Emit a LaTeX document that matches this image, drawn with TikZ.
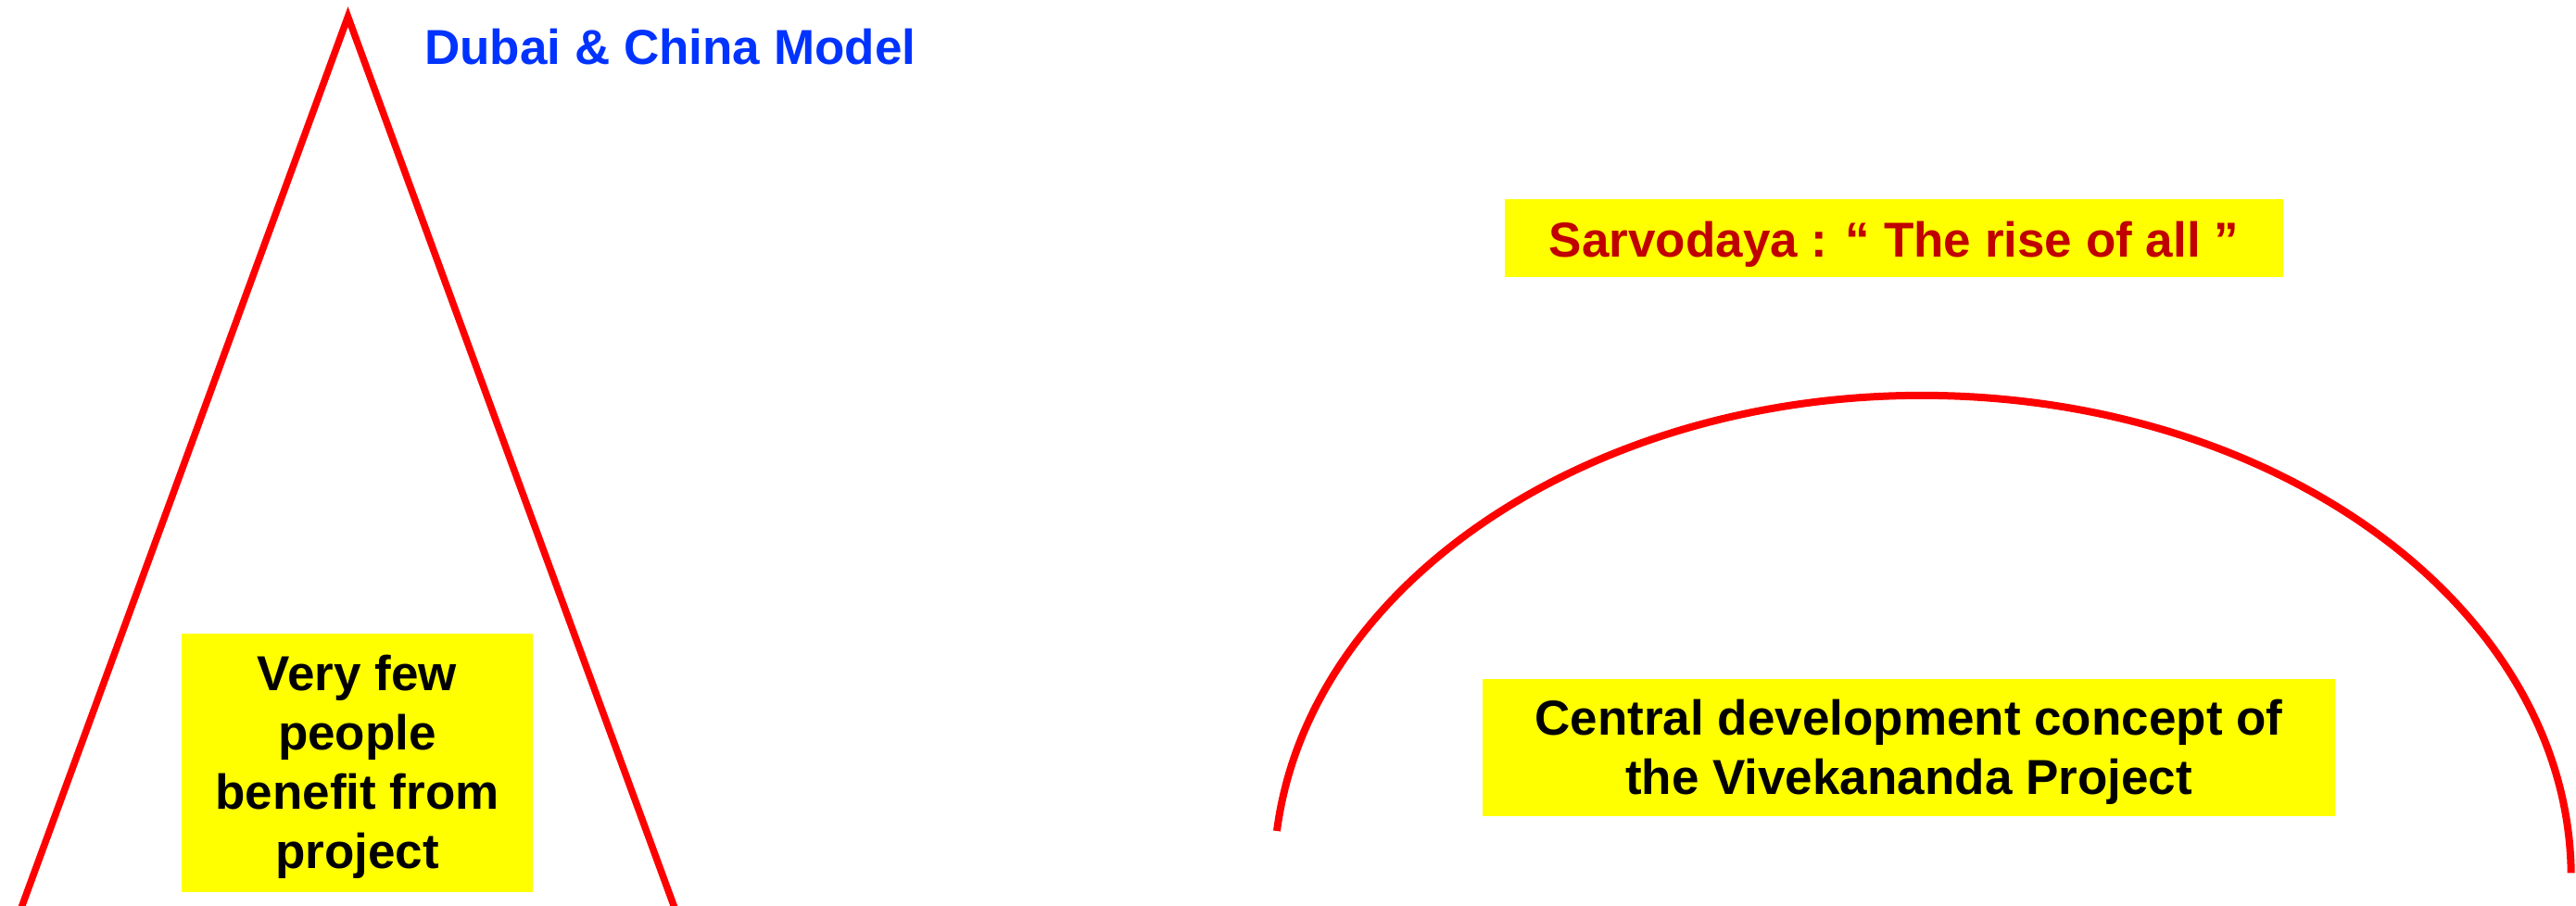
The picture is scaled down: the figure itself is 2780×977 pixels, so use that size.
\documentclass[tikz,border=0pt]{standalone}
\usepackage{fontspec}
\setmainfont{Liberation Sans}
\definecolor{linered}{RGB}{255,0,0}
\definecolor{boxyellow}{RGB}{255,255,0}
\definecolor{dubaiblue}{RGB}{0,51,255}
\definecolor{sarvored}{RGB}{192,0,0}
\tikzset{
  redline/.style={draw=linered, line width=7.5pt},
  ybox/.style={fill=boxyellow, draw=none, inner sep=0pt},
  bigtext/.style={font=\fontsize{53}{64}\selectfont\bfseries, inner sep=0pt}
}
\begin{document}
\begin{tikzpicture}[x=1pt,y=-1pt]
\useasboundingbox (0,0) rectangle (2780,977);
\fill[white] (0,0) rectangle (2780,977);

% left triangle (Dubai & China model)
\coordinate (apex) at (375.5,18);
\coordinate (tl) at (23,980);
\coordinate (tr) at (728,980);
\draw[redline, line join=miter] (tl) -- (apex) -- (tr);

\node[bigtext, anchor=base west, text=dubaiblue] (dubai) at (458,69) {Dubai \& China Model};

\node[ybox, minimum width=379pt, minimum height=279pt] (fewbox) at (385.5,823.5) {};
\node[bigtext, anchor=north, align=center] (fewtext) at (385.5,707.3)
  {Very few\\people\\benefit from\\project};

% right arc (Sarvodaya)
\coordinate (arcstart) at (1378,897);
\draw[redline, line width=8pt] (arcstart) arc[start angle=174.5, end angle=0.5, x radius=700pt, y radius=520pt];

\node[ybox, bigtext, text=sarvored, minimum width=840pt, text height=62pt, text depth=22pt, anchor=base] (sarvo) at (2044,277)
  {Sarvodaya : “ The rise of all ”};

\node[ybox, minimum width=920pt, minimum height=148pt] (centralbox) at (2060,807) {};
\node[bigtext, anchor=north, align=center] (centraltext) at (2060,755.3)
  {Central development concept of\\the Vivekananda Project};
\end{tikzpicture}
\end{document}
